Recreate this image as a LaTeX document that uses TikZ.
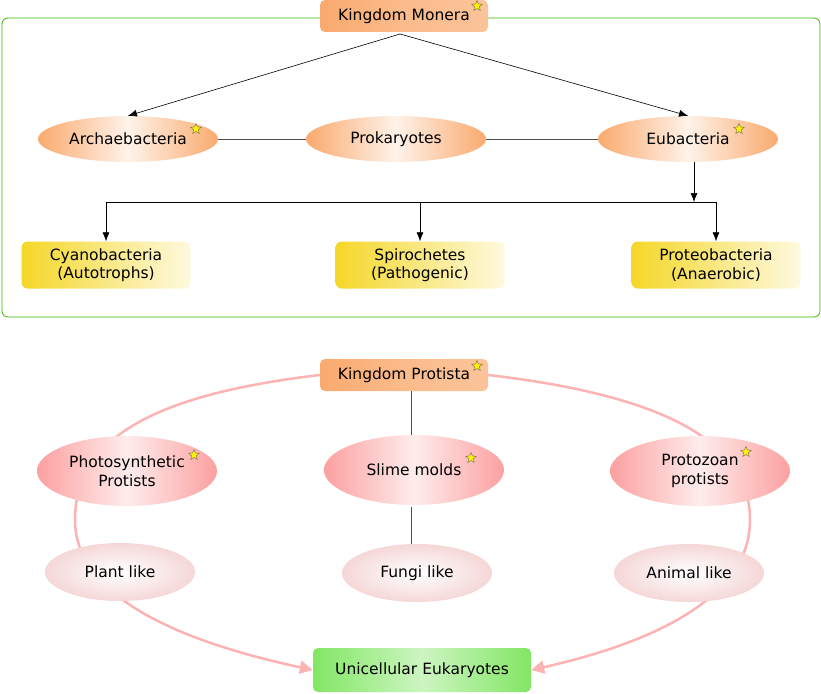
\documentclass[tikz,border=0pt]{standalone}
\usepackage{fontspec}
\setmainfont{DejaVu Sans}
\usetikzlibrary{shapes.geometric,arrows.meta,positioning,backgrounds}
\definecolor{orng}{RGB}{250,170,110}
\definecolor{ylw}{RGB}{245,215,40}
\definecolor{pnk}{RGB}{252,160,160}
\definecolor{lpnk}{RGB}{245,215,215}
\definecolor{grn}{RGB}{130,230,100}
\tikzset{
  kbox/.style={draw=none,rounded corners=5pt,minimum width=168pt,minimum height=32pt,left color=orng,right color=orng!70,middle color=orng!80},
  ybox/.style={rounded corners=6pt,minimum width=169pt,minimum height=47pt,left color=ylw,right color=ylw!15,align=center},
  oell/.style={ellipse,minimum width=180pt,minimum height=46pt,left color=orng,right color=orng,middle color=orng!15},
  pell/.style={ellipse,minimum width=180pt,minimum height=70pt,left color=pnk,right color=pnk,middle color=pnk!20,align=center},
  lell/.style={ellipse,minimum width=150pt,minimum height=58pt,inner color=white,outer color=lpnk},
  starmark/.style={star,star points=5,star point ratio=2.2,draw=black!60,fill=yellow,inner sep=0pt,minimum size=11pt,line width=0.4pt},
}
\begin{document}
\begin{tikzpicture}[x=1pt,y=-1pt,font=\fontsize{15.5}{18.5}\selectfont]
  \useasboundingbox (0,0) rectangle (821,693);
  \draw[draw=green!60!black!70!lime,rounded corners=6pt,line width=0.8pt] (2,18) rectangle (820,317);
  % Monera
  \node[kbox] (mon) at (404,16) {Kingdom Monera};
  \node[oell] (arch) at (128,139) {Archaebacteria};
  \node[oell] (prok) at (396,139) {Prokaryotes};
  \node[oell] (eub) at (688,139) {Eubacteria};
  \node[ybox] (cyan) at (106,265) {Cyanobacteria\\(Autotrophs)};
  \node[ybox] (spir) at (420,265) {Spirochetes\\(Pathogenic)};
  \node[ybox] (prot) at (716,265) {Proteobacteria\\(Anaerobic)};
  \coordinate (top) at (400,34);
  \coordinate (fork) at (694,202);
  \begin{scope}[-{Latex[length=9pt,width=7pt]},line width=0.6pt]
    \draw (top) -- (arch.north);
    \draw (top) -- (eub.north);
    \draw (eub.south -| fork) -- (fork);
    \draw (fork) -| (prot.north);
    \draw (fork) -| (cyan.north);
    \draw (spir.north |- fork) -- (spir.north);
  \end{scope}
  \draw[black!70] (arch) -- (prok) (prok) -- (eub);
  % Protista
  \node[kbox] (pro) at (404,375) {Kingdom Protista};
  \node[pell] (photo) at (127,471) {Photosynthetic\\Protists};
  \node[pell] (slime) at (414,470) {Slime molds};
  \node[pell] (zoo) at (700,471) {Protozoan\\protists};
  \node[lell] (plant) at (120,572) {Plant like};
  \node[lell] (fungi) at (417,573) {Fungi like};
  \node[lell] (anim) at (689,573) {Animal like};
  \node[rounded corners=5pt,minimum width=218pt,minimum height=44pt,left color=grn,right color=grn,middle color=grn!40] (uni) at (422,670) {Unicellular Eukaryotes};
  \begin{scope}[on background layer]
    \draw[black!70] (pro.south -| 411,0) -- (411,437);
    \draw[black!70] (411,507) -- (411,545);
    \begin{scope}[pnk!80,line width=2.5pt,-{Triangle[length=13pt,width=13pt]}]
      \draw (pro.west) .. controls (150,395) and (75,440) .. (75,520) .. controls (75,610) and (220,650) .. (uni.west);
      \draw (pro.east) .. controls (660,395) and (750,440) .. (750,520) .. controls (750,610) and (620,650) .. (uni.east);
    \end{scope}
  \end{scope}
  \foreach \p in {(477,6),(196,129),(739,129),(477,366),(194,455),(471,458),(746,452)}
    \node[starmark] at \p {};
\end{tikzpicture}
\end{document}
